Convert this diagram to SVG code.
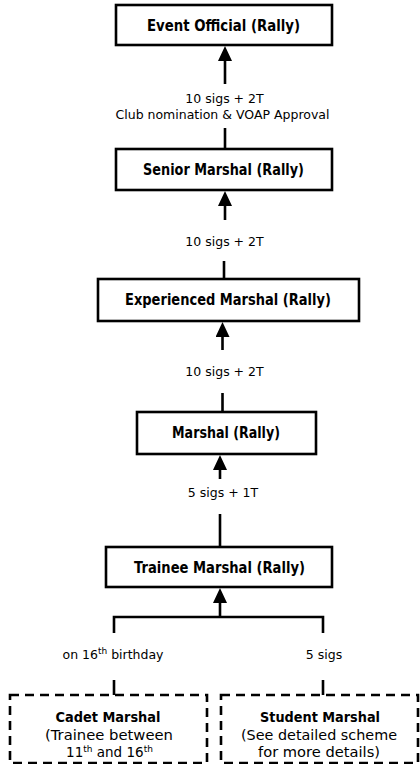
<svg xmlns="http://www.w3.org/2000/svg" width="420" height="764" viewBox="0 0 420 764">
<style>
.box{fill:#fff;stroke:#000;stroke-width:2.6}
.dash{fill:#fff;stroke:#000;stroke-width:2.6;stroke-dasharray:9 6}
.ln{fill:none;stroke:#000;stroke-width:2.6}
.t{font-family:"DejaVu Sans",Verdana,sans-serif;font-weight:bold;font-size:15px;text-anchor:middle;fill:#000}
.tb{font-family:"DejaVu Sans",Verdana,sans-serif;font-weight:bold;font-size:14px;text-anchor:middle;fill:#000}
.l{font-family:"DejaVu Sans",Verdana,sans-serif;font-size:12.5px;text-anchor:middle;fill:#000}
.s{font-family:"DejaVu Sans",Verdana,sans-serif;font-size:13.5px;text-anchor:middle;fill:#000}
.sup{font-size:9px}
</style>
<defs>
<marker id="arr" viewBox="0 0 15 14" refX="0" refY="7" markerWidth="15" markerHeight="14" markerUnits="userSpaceOnUse" orient="auto">
<path d="M0,0 L15,7 L0,14 z" fill="#000"/>
</marker>
</defs>
<g id="connectors">
<path class="ln" d="M225 84 V61" marker-end="url(#arr)"/>
<path class="ln" d="M225 149 V128"/>
<path class="ln" d="M225 220 V206" marker-end="url(#arr)"/>
<path class="ln" d="M224 279 V261"/>
<path class="ln" d="M222.5 350 V337" marker-end="url(#arr)"/>
<path class="ln" d="M222.5 412 V393"/>
<path class="ln" d="M220 479 V470" marker-end="url(#arr)"/>
<path class="ln" d="M220 547 V514"/>
<path class="ln" d="M220 617 V603" marker-end="url(#arr)"/>
<path class="ln" d="M114 633 V617 H323 V633"/>
<path class="ln" d="M114 680 V695"/>
<path class="ln" d="M323 680 V695"/>
<text class="l" x="224.5" y="103" font-size="12">10 sigs + 2T</text>
<text class="l" x="222.5" y="119" font-size="13">Club nomination &amp; VOAP Approval</text>
<text class="l" x="224.5" y="246" font-size="12">10 sigs + 2T</text>
<text class="l" x="224.5" y="376" font-size="12">10 sigs + 2T</text>
<text class="l" x="223" y="497" font-size="12">5 sigs + 1T</text>
<text class="l" x="113" y="659" font-size="13">on 16<tspan class="sup" dy="-5">th</tspan><tspan dy="5"> birthday</tspan></text>
<text class="l" x="324" y="659">5 sigs</text>
</g>
<g id="event-official">
<rect class="box" x="116" y="5" width="216" height="40"/>
<text class="t" x="223.5" y="31" textLength="153" lengthAdjust="spacingAndGlyphs">Event Official (Rally)</text>
</g>
<g id="senior-marshal">
<rect class="box" x="116" y="149" width="216" height="41"/>
<text class="t" x="223.5" y="174.5" textLength="161" lengthAdjust="spacingAndGlyphs">Senior Marshal (Rally)</text>
</g>
<g id="experienced-marshal">
<rect class="box" x="98" y="279" width="261" height="42"/>
<text class="t" x="228" y="305" textLength="206" lengthAdjust="spacingAndGlyphs">Experienced Marshal (Rally)</text>
</g>
<g id="marshal">
<rect class="box" x="137" y="412" width="179" height="42"/>
<text class="t" x="226" y="438" textLength="108" lengthAdjust="spacingAndGlyphs">Marshal (Rally)</text>
</g>
<g id="trainee-marshal">
<rect class="box" x="106" y="547" width="226" height="40"/>
<text class="t" x="219.5" y="572.5" textLength="171" lengthAdjust="spacingAndGlyphs">Trainee Marshal (Rally)</text>
</g>
<g id="cadet-marshal">
<rect class="dash" x="10" y="695" width="197" height="68"/>
<text class="tb" x="108" y="722" textLength="105" lengthAdjust="spacingAndGlyphs">Cadet Marshal</text>
<text class="s" x="109" y="740" textLength="128" lengthAdjust="spacingAndGlyphs">(Trainee between</text>
<text class="s" x="109.5" y="757">11<tspan class="sup" dy="-5">th</tspan><tspan dy="5"> and 16</tspan><tspan class="sup" dy="-5">th</tspan></text>
</g>
<g id="student-marshal">
<rect class="dash" x="221" y="695" width="197" height="68"/>
<text class="tb" x="320" y="722" textLength="120" lengthAdjust="spacingAndGlyphs">Student Marshal</text>
<text class="s" x="319" y="740" textLength="156" lengthAdjust="spacingAndGlyphs">(See detailed scheme</text>
<text class="s" x="319" y="757" textLength="122" lengthAdjust="spacingAndGlyphs">for more details)</text>
</g>
</svg>
